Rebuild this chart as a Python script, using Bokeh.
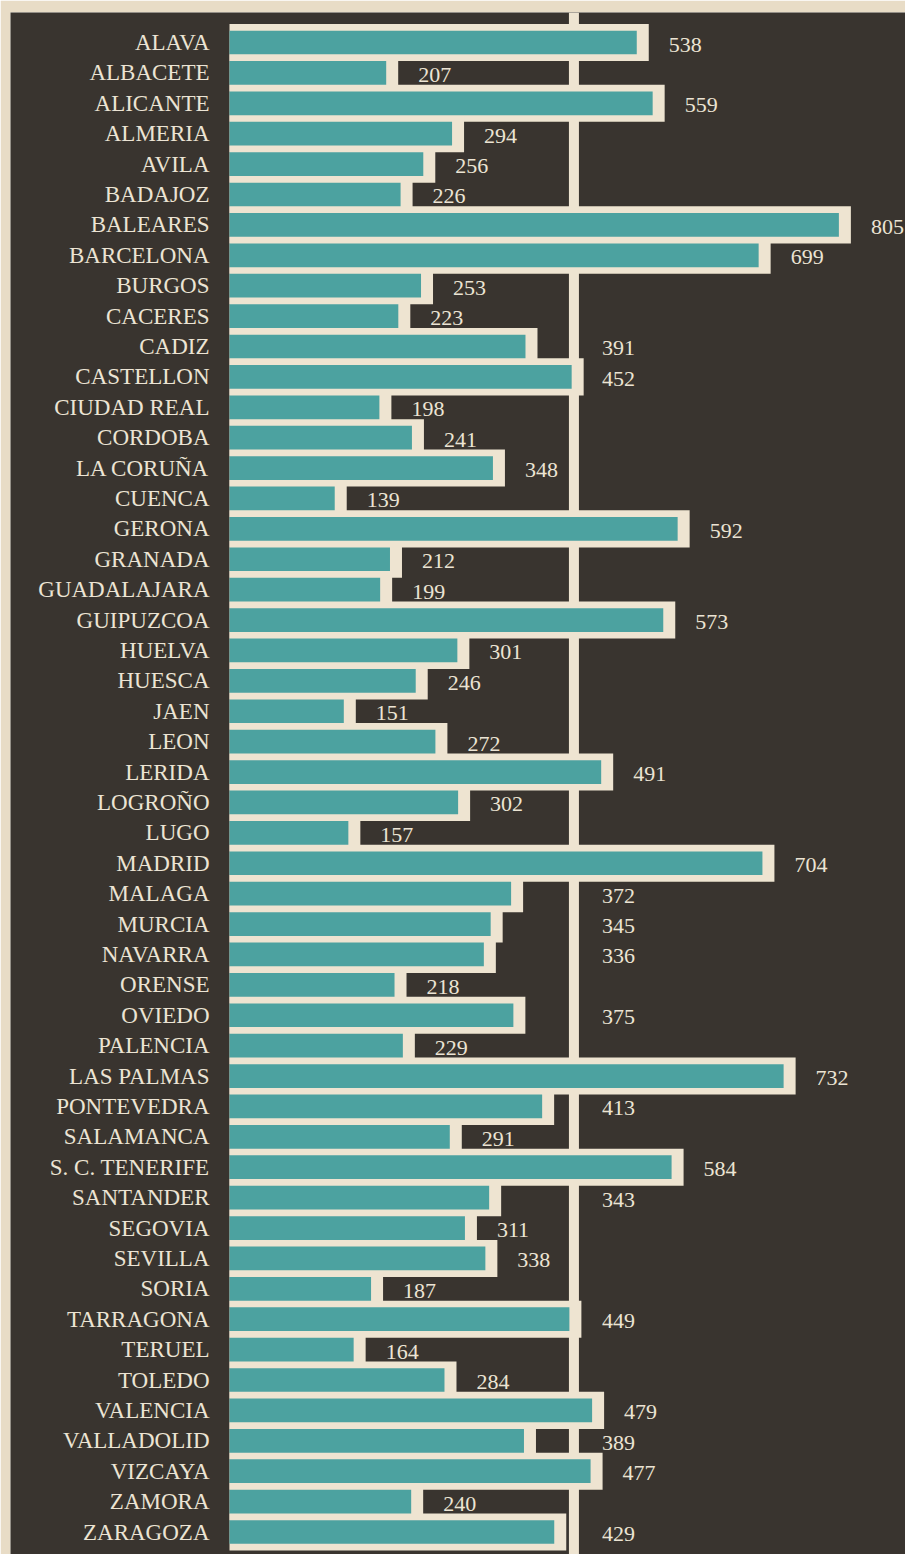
import numpy as np
from bokeh.plotting import figure
from bokeh.models import Range1d, Span, ColumnDataSource
from bokeh.core.properties import value
from bokeh.embed import file_html
from bokeh.resources import INLINE

# ---- data -------------------------------------------------------------
provinces = [
    "ALAVA", "ALBACETE", "ALICANTE", "ALMERIA", "AVILA", "BADAJOZ",
    "BALEARES", "BARCELONA", "BURGOS", "CACERES", "CADIZ", "CASTELLON",
    "CIUDAD REAL", "CORDOBA", "LA CORUÑA", "CUENCA", "GERONA", "GRANADA",
    "GUADALAJARA", "GUIPUZCOA", "HUELVA", "HUESCA", "JAEN", "LEON",
    "LERIDA", "LOGROÑO", "LUGO", "MADRID", "MALAGA", "MURCIA", "NAVARRA",
    "ORENSE", "OVIEDO", "PALENCIA", "LAS PALMAS", "PONTEVEDRA",
    "SALAMANCA", "S. C. TENERIFE", "SANTANDER", "SEGOVIA", "SEVILLA",
    "SORIA", "TARRAGONA", "TERUEL", "TOLEDO", "VALENCIA", "VALLADOLID",
    "VIZCAYA", "ZAMORA", "ZARAGOZA",
]
values = [
    538, 207, 559, 294, 256, 226,
    805, 699, 253, 223, 391, 452,
    198, 241, 348, 139, 592, 212,
    199, 573, 301, 246, 151, 272,
    491, 302, 157, 704, 372, 345, 336,
    218, 375, 229, 732, 413,
    291, 584, 343, 311, 338,
    187, 449, 164, 284, 479, 389,
    477, 240, 429,
]
reference_value = 455  # vertical reference line

# layout choice: labels written past the reference line
labels_past_line = {"CADIZ", "CASTELLON", "MALAGA", "MURCIA", "NAVARRA",
                    "OVIEDO", "PONTEVEDRA", "SANTANDER", "TARRAGONA",
                    "VALLADOLID", "ZARAGOZA"}

# ---- style --------------------------------------------------------------
DARK = "#39342f"
CREAM = "#eee4d1"
PAGE = "#e8dcc6"
TEAL = "#4ca2a0"
TEXT = "#ece4d4"

PX_PER_UNIT = 0.757
PAD = 12 / PX_PER_UNIT

n = len(provinces)
rows = np.arange(n)
vals = np.array(values, dtype=float)

src = ColumnDataSource(dict(
    y=rows,
    zero=np.zeros(n),
    val=vals,
    cream_right=vals + PAD,
    name=provinces,
    label=[str(v) for v in values],
    label_x=[reference_value if pname in labels_past_line else v + PAD
             for pname, v in zip(provinces, values)],
    label_off=[28 if pname in labels_past_line else 20 for pname in provinces],
))

p = figure(
    width=905, height=1554,
    x_range=Range1d(-289.3, 893.0),
    y_range=Range1d(49.74, -0.987),
    output_backend="svg", toolbar_location=None,
    x_axis_location=None, y_axis_location=None,
    min_border_left=10, min_border_right=0,
    min_border_top=12, min_border_bottom=0,
    background_fill_color=DARK, border_fill_color=PAGE,
    outline_line_color=None,
)
p.grid.visible = False

# reference line (under the bars)
p.add_layout(Span(location=reference_value, dimension="height",
                  line_color=CREAM, line_width=10, level="underlay"))

# cream frame around each bar
p.hbar(y="y", left="zero", right="cream_right", height=1.22,
       source=src, fill_color=CREAM, line_color=None)
# teal bars
p.hbar(y="y", left="zero", right="val", height=0.78,
       source=src, fill_color=TEAL, line_color=None)

# province names
p.text(x="zero", y="y", text="name", source=src,
       x_offset=-20, text_align="right", text_baseline="middle",
       text_font=value("Liberation Serif"), text_font_size="23px",
       text_color=TEXT)

# values
p.text(x="label_x", y="y", text="label", source=src,
       x_offset="label_off", y_offset=2, text_align="left",
       text_baseline="middle",
       text_font=value("Liberation Serif"), text_font_size="22px",
       text_color=TEXT)

open("out.html", "w").write(file_html(p, INLINE))
